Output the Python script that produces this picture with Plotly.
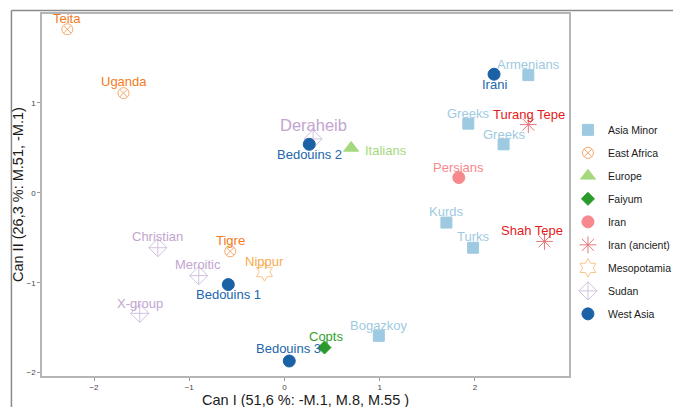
import plotly.graph_objects as go

# Canonical discriminant scores per population
names = ["Armenians", "Greeks", "Greeks", "Kurds", "Turks", "Bogazkoy",
         "Teita", "Uganda", "Tigre",
         "Italians",
         "Copts",
         "Persians",
         "Turang Tepe", "Shah Tepe",
         "Nippur",
         "Deraheib", "Christian", "Meroitic", "X-group",
         "Irani", "Bedouins 2", "Bedouins 1", "Bedouins 3"]
groups = ["Asia Minor"] * 6 + ["East Africa"] * 3 + ["Europe", "Faiyum", "Iran"] + \
         ["Iran (ancient)"] * 2 + ["Mesopotamia"] + ["Sudan"] * 4 + ["West Asia"] * 4
can1 = [2.56, 1.93, 2.30, 1.70, 1.98, 0.99,
        -2.28, -1.69, -0.57,
        0.70,
        0.42,
        1.83,
        2.56, 2.73,
        -0.21,
        0.30, -1.33, -0.90, -1.52,
        2.20, 0.26, -0.59, 0.05]
can2 = [1.31, 0.77, 0.54, -0.33, -0.61, -1.59,
        1.82, 1.11, -0.65,
        0.50,
        -1.72,
        0.17,
        0.76, -0.54,
        -0.88,
        0.60, -0.61, -0.92, -1.34,
        1.32, 0.54, -1.02, -1.87]

group_order = ["Asia Minor", "East Africa", "Europe", "Faiyum", "Iran",
               "Iran (ancient)", "Mesopotamia", "Sudan", "West Asia"]

# Styling per group: marker symbol, marker colour, label colour, marker size
style = {
    "Asia Minor":     ("square",             "#9ecae1", "#9ecae1", 11),
    "East Africa":    ("circle-x-open",      "#f9a86a", "#f47b20", 11),
    "Europe":         ("triangle-up",        "#a6d97e", "#a6d97e", 13),
    "Faiyum":         ("diamond",            "#2a9a2a", "#33a02c", 10),
    "Iran":           ("circle",             "#f7888d", "#f7888d", 12),
    "Iran (ancient)": ("asterisk-open",      "#e8767c", "#e31a1c", 14),
    "Mesopotamia":    ("hexagram-open",      "#fcc58a", "#f9a94b", 14),
    "Sudan":          ("diamond-cross-open", "#d2c2df", "#c2a5cf", 14),
    "West Asia":      ("circle",             "#1b61a6", "#2166ac", 12),
}

# Label offsets in pixels (dx, dy) relative to each point
offsets = [(0, 11), (0, 10), (0, 10), (0, 11), (0, 11), (0, 10),
           (0, 11), (0, 12), (0, 11),
           (None, -3),
           (1, 11),
           (0, 10),
           (1, 10), (-13, 11),
           (0, 10),
           (0, 14), (0, 11), (-1, 11), (0, 10),
           (0, -10), (0, -10), (0, -10), (-1, 12)]

fig = go.Figure()
for g in group_order:
    sym, mcol, lcol, size = style[g]
    idx = [i for i, gg in enumerate(groups) if gg == g]
    fig.add_trace(go.Scatter(
        x=[can1[i] for i in idx], y=[can2[i] for i in idx],
        mode="markers", name=g, legendgroup=g,
        marker=dict(symbol=sym, color=mcol, size=size,
                    line=dict(color=mcol, width=1)),
        hoverinfo="text", text=[names[i] for i in idx],
    ))

annotations = []
for i, n in enumerate(names):
    sym, mcol, lcol, size = style[groups[i]]
    dx, dy = offsets[i]
    fsize = 16.5 if n == "Deraheib" else 13
    if dx is None:
        annotations.append(dict(x=can1[i], y=can2[i], text=n, showarrow=False,
                                xanchor="left", yanchor="middle", xshift=12, yshift=dy,
                                font=dict(size=fsize, color=lcol)))
    else:
        annotations.append(dict(x=can1[i], y=can2[i], text=n, showarrow=False,
                                xanchor="center", yanchor="middle", xshift=dx, yshift=dy,
                                font=dict(size=fsize, color=lcol)))

# Axis titles
annotations.append(dict(xref="paper", yref="paper", x=0.5, y=-0.066,
                        text="Can I (51,6 %: -M.1, M.8, M.55 )", showarrow=False,
                        xanchor="center", yanchor="middle",
                        font=dict(size=14.5, color="#1a1a1a")))
annotations.append(dict(xref="paper", yref="paper", x=-0.0455, y=0.5,
                        text="Can II (26,3 %: M.51, -M.1)", showarrow=False,
                        textangle=-90, xanchor="center", yanchor="middle",
                        font=dict(size=14.5, color="#1a1a1a")))

axis_common = dict(showgrid=False, zeroline=False, showline=True, mirror=True,
                   linecolor="#b5b5b5", linewidth=1.5, ticks="outside", ticklen=3,
                   tickcolor="#999999", tickwidth=1, tickvals=[-2, -1, 0, 1, 2],
                   tickfont=dict(size=8, color="#444444"))

fig.update_layout(
    width=673, height=407,
    margin=dict(l=42, r=104, t=14, b=31, autoexpand=False),
    paper_bgcolor="white", plot_bgcolor="white",
    font=dict(family="Arial, Liberation Sans, sans-serif"),
    xaxis=dict(range=[-2.546, 2.987], **axis_common),
    yaxis=dict(range=[-2.037, 1.99], **axis_common),
    legend=dict(x=0.998, xanchor="left", y=0.72, yanchor="top",
                font=dict(size=10.5, color="#1a1a1a"), tracegroupgap=4,
                bgcolor="rgba(0,0,0,0)"),
    annotations=annotations,
    shapes=[
        dict(type="line", xref="paper", yref="paper", x0=-0.058, x1=1.3,
             y0=1.0097, y1=1.0097, line=dict(color="#8a8a8a", width=1.5)),
        dict(type="line", xref="paper", yref="paper", x0=-0.058, x1=-0.058,
             y0=1.0097, y1=-0.1, line=dict(color="#8a8a8a", width=1.5)),
    ],
)

fig.write_html("out.html")
